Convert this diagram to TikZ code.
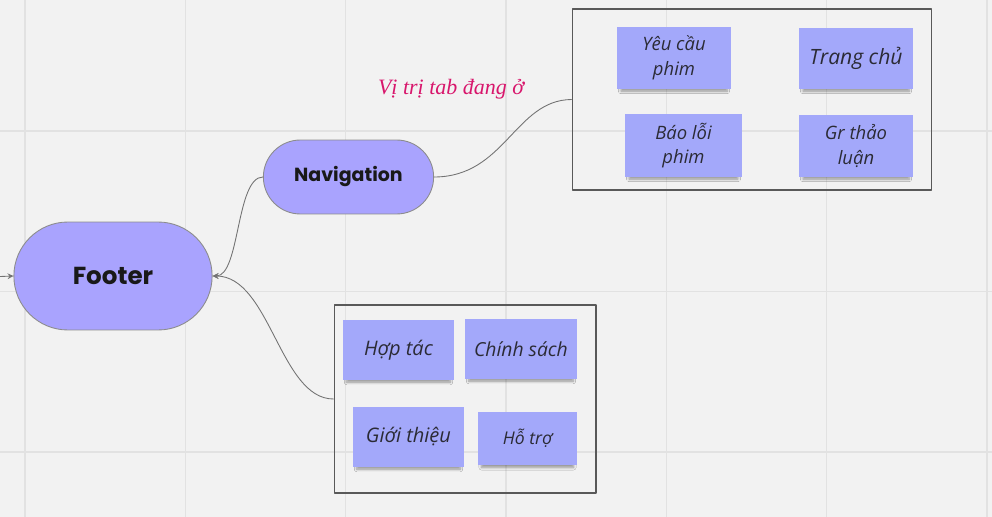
\documentclass[tikz,border=0pt]{standalone}
\usepackage{fontspec}
\setmainfont{Open Sans}
\newfontfamily\popfont{Poppins}
\newfontfamily\tabfont{Liberation Serif}
\usetikzlibrary{shapes.misc,shadows.blur}
\definecolor{paper}{HTML}{F2F2F2}
\definecolor{gridc}{HTML}{E2E2E2}
\definecolor{pillc}{HTML}{A9A3FE}
\definecolor{notec}{HTML}{A3A8FA}
\definecolor{ink}{HTML}{2B2B35}
\definecolor{tabred}{HTML}{D8166C}
\begin{document}
\begin{tikzpicture}[x=0.02cm,y=-0.02cm,>=stealth,line join=round,line cap=round,
	pill/.style={rounded rectangle,draw=black!45,line width=0.5pt,fill=pillc,font=\popfont\bfseries,text=black!90},
	note/.style={fill=notec,text=ink,align=center,font=\itshape,inner sep=2pt,
		blur shadow={shadow xshift=0pt,shadow yshift=-2.6pt,shadow scale=0.93,shadow blur radius=1.6pt,shadow blur steps=6,shadow opacity=40}},
	frame/.style={draw=black!65,line width=0.6pt},
	link/.style={draw=black!55,line width=0.5pt}]
	\fill[paper] (0,0) rectangle (992,517);
	\useasboundingbox (0,0) rectangle (992,517);
	\foreach \i in {0,...,6}
		\draw[gridc,line width=0.8pt] (25+160.3*\i,0)--(25+160.3*\i,517);
	\foreach \i in {0,...,2}
		\draw[gridc,line width=0.8pt] (0,131+160.5*\i)--(992,131+160.5*\i);
	% mind map
	\node[pill,minimum width=4.2cm,minimum height=2.16cm,font=\popfont\bfseries\fontsize{14}{16}\selectfont] (footer) at (113,276) {Footer};
	\node[pill,minimum width=3.64cm,minimum height=1.48cm,font=\popfont\bfseries\fontsize{10.8}{13}\selectfont] (nav) at (348.5,177) {Navigation};
	\coordinate (in) at (0,276.5);
	\draw[link,->] (in)--(footer.west);
	% tab group
	\node[frame,minimum width=7.2cm,minimum height=3.62cm] (tabs) at (752,99.5) {};
	\node[note,minimum width=2.28cm,minimum height=1.24cm,font=\itshape\fontsize{10.5}{14}\selectfont] (yeucau) at (674,58) {Yêu cầu\\phim};
	\node[note,minimum width=2.28cm,minimum height=1.22cm,font=\itshape\fontsize{12}{14}\selectfont] (trangchu) at (856,58.5) {Trang chủ};
	\node[note,minimum width=2.34cm,minimum height=1.26cm,font=\itshape\fontsize{10.5}{14}\selectfont] (baoloi) at (683.5,145.5) {Báo lỗi\\phim};
	\node[note,minimum width=2.28cm,minimum height=1.24cm,font=\itshape\fontsize{10.5}{14}\selectfont] (grthao) at (856,146) {Gr thảo\\luận};
	\node[text=tabred,font=\tabfont\itshape\fontsize{12.5}{14}\selectfont] (vitri) at (451,89) {Vị trị tab đang ở};
	% info group
	\node[frame,minimum width=5.24cm,minimum height=3.76cm] (info) at (465,399) {};
	\node[note,minimum width=2.22cm,minimum height=1.2cm,font=\itshape\fontsize{11.4}{14}\selectfont] (hoptac) at (398.5,350) {Hợp tác};
	\node[note,minimum width=2.24cm,minimum height=1.2cm,font=\itshape\fontsize{11}{14}\selectfont] (chinhsach) at (521,349) {Chính sách};
	\node[note,minimum width=2.22cm,minimum height=1.2cm,font=\itshape\fontsize{11.4}{14}\selectfont] (gioithieu) at (408.5,437) {Giới thiệu};
	\node[note,minimum width=1.98cm,minimum height=1.06cm,font=\itshape\fontsize{10}{14}\selectfont] (hotro) at (527.5,438.5) {Hỗ trợ};
	% connectors
	\draw[link] (nav.east) .. controls (505,177) and (515,100) .. (tabs.west);
	\draw[link,->] (nav.west) .. controls (236,177) and (240,276) .. (footer.east);
	\draw[link,->] (info.west) .. controls (280,399) and (270,276) .. (footer.east);
\end{tikzpicture}
\end{document}
